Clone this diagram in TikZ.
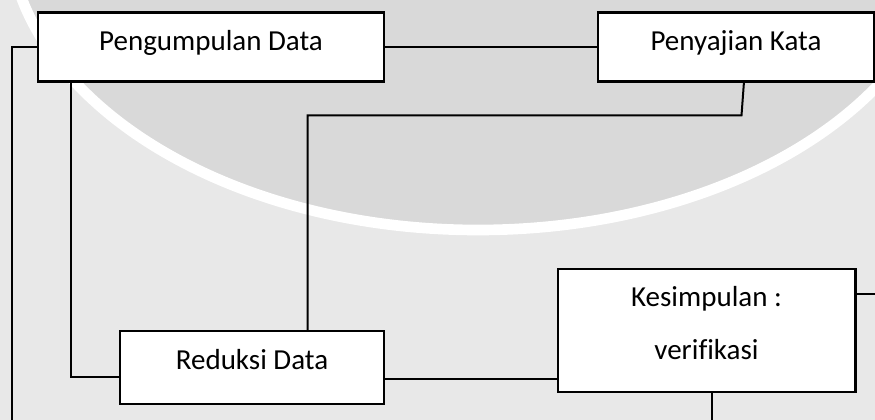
\documentclass[tikz,border=0pt]{standalone}
\usepackage{fontspec}
\setmainfont{Carlito}[Ligatures=NoCommon]
\definecolor{pagegray}{HTML}{E8E8E8}
\definecolor{sealgray}{HTML}{D9D9D9}
\tikzset{
  procbox/.style={draw=black, fill=white, line width=1.7pt, inner sep=0pt, outer sep=0pt,
    font=\fontsize{21.75}{26}\selectfont, text height=16pt},
  label/.style={inner sep=0pt, font=\fontsize{21.75}{26}\selectfont},
  link/.style={draw=black, line width=1.5pt}
}
\begin{document}
\begin{tikzpicture}[x=0.75pt, y=-0.75pt]
  % page background with the faint seal behind the flow
  \useasboundingbox (0,0) rectangle (875,420);
  \fill[pagegray] (0,0) rectangle (875,420);
  \begin{scope}
    \clip (0,0) rectangle (875,420);
    \fill[sealgray, draw=white, line width=8pt] (478,-75) ellipse [x radius=470, y radius=305];
  \end{scope}

  % process boxes
  \node[procbox, minimum width=346*0.75pt, minimum height=69*0.75pt, text depth=10pt]
    (pd) at (211,47) {Pengumpulan Data};
  \node[procbox, minimum width=276*0.75pt, minimum height=69*0.75pt, text depth=10pt]
    (pk) at (736,47) {Penyajian Kata};
  \node[procbox, minimum width=264*0.75pt, minimum height=73*0.75pt, text depth=13.75pt]
    (rd) at (252,367.5) {Reduksi Data};
  \node[procbox, minimum width=297.5*0.75pt, minimum height=122.7*0.75pt]
    (ks) at (706.7,330.3) {};
  \node[label, anchor=base] (ks1) at (706.5,306.7) {Kesimpulan :};
  \node[label, anchor=base] (ks2) at (706.5,360) {verifikasi};

  % bend points and open ends of the connectors
  \coordinate (xb) at (71,0);
  \coordinate (xc) at (307.7,0);
  \coordinate (xd) at (744,0);
  \coordinate (xe) at (712,0);
  \coordinate (yb) at (0,376.8);
  \coordinate (yr) at (0,378.8);
  \coordinate (yk) at (0,294.3);
  \coordinate (bend) at (741.5,115.5);
  \coordinate (endA) at (11.5,422);
  \coordinate (endK) at (877,294.3);
  \coordinate (endS) at (712,422);

  % connectors
  \draw[link] (pd.east) -- (pk.west);
  \draw[link] (pd.west) -| (endA);
  \draw[link] (pd.south -| xb) |- (rd.west |- yb);
  \draw[link] (rd.north -| xc) |- (bend) -- (pk.south -| xd);
  \draw[link] (rd.east |- yr) -- (ks.west |- yr);
  \draw[link] (ks.east |- yk) -- (endK);
  \draw[link] (ks.south -| xe) -- (endS);
\end{tikzpicture}
\end{document}
